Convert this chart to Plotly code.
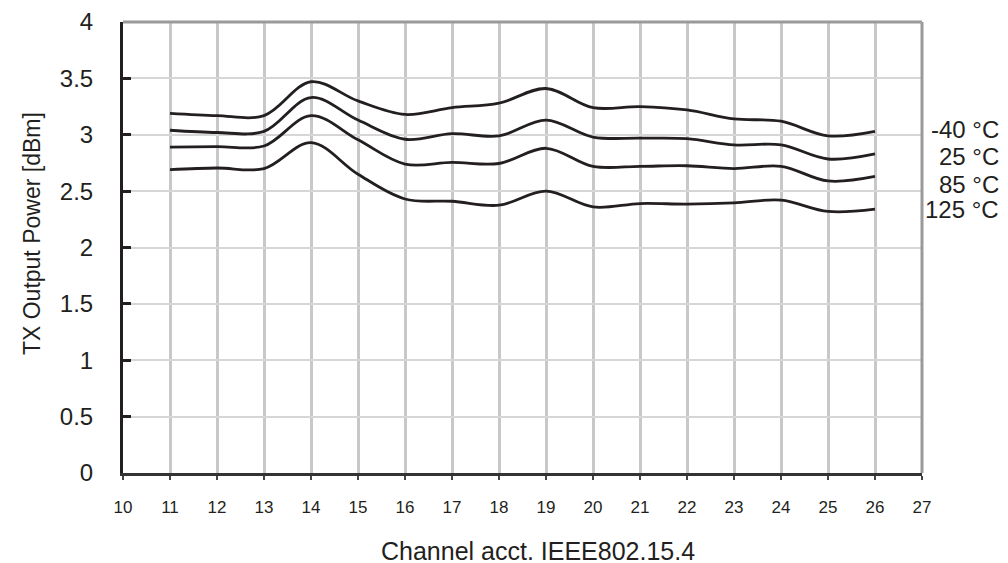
import plotly.graph_objects as go

channels = list(range(11, 27))
temps = ["-40 °C", "25 °C", "85 °C", "125 °C"]
p_m40 = [3.19, 3.17, 3.17, 3.47, 3.30, 3.18, 3.24, 3.28, 3.41, 3.24, 3.25, 3.22, 3.14, 3.12, 2.99, 3.03]
p_25 = [3.04, 3.02, 3.03, 3.33, 3.13, 2.96, 3.01, 2.99, 3.13, 2.98, 2.97, 2.965, 2.91, 2.91, 2.785, 2.83]
p_85 = [2.89, 2.895, 2.90, 3.17, 2.955, 2.74, 2.755, 2.745, 2.88, 2.72, 2.72, 2.725, 2.70, 2.72, 2.59, 2.63]
p_125 = [2.69, 2.705, 2.70, 2.93, 2.65, 2.43, 2.41, 2.375, 2.50, 2.36, 2.39, 2.385, 2.395, 2.42, 2.32, 2.34]
series = [p_m40, p_25, p_85, p_125]
label_y = [3.045, 2.81, 2.56, 2.335]

FONT = "Liberation Sans, Arial, Helvetica, sans-serif"
INK = "#231f20"

fig = go.Figure()
for name, vals in zip(temps, series):
    fig.add_trace(go.Scatter(x=channels, y=vals, mode="lines", name=name,
                             line=dict(color=INK, width=2.8, shape="spline", smoothing=1.0),
                             showlegend=False))

for name, yv in zip(temps, label_y):
    fig.add_annotation(x=1.099, xref="paper", y=yv, yref="y", text=name,
                       showarrow=False, xanchor="right", yanchor="middle",
                       font=dict(family=FONT, size=24, color=INK))

fig.add_annotation(x=-0.1139, xref="paper", y=0.532, yref="paper",
                   text="TX Output Power [dBm]", textangle=-90, showarrow=False,
                   xanchor="center", yanchor="middle",
                   font=dict(family=FONT, size=23, color=INK))
fig.add_annotation(x=0.519, xref="paper", y=-0.172, yref="paper",
                   text="Channel acct. IEEE802.15.4", showarrow=False,
                   xanchor="center", yanchor="middle",
                   font=dict(family=FONT, size=25, color=INK))

# top and right frame lines
fig.add_shape(type="line", xref="paper", yref="paper", x0=0, x1=1, y0=1, y1=1,
              line=dict(color="#9a9a9a", width=3), layer="above")
fig.add_shape(type="line", xref="paper", yref="paper", x0=1, x1=1, y0=0, y1=1,
              line=dict(color="#9a9a9a", width=3), layer="above")

fig.update_layout(
    width=1008, height=563,
    margin=dict(l=115, r=94, t=14, b=98),
    plot_bgcolor="white", paper_bgcolor="white",
    xaxis=dict(range=[10, 27], dtick=1, tick0=10, showgrid=True, automargin=False,
               gridcolor="#c8c8c8", gridwidth=2.5, zeroline=False,
               showline=True, linecolor="#333333", linewidth=2.5,
               ticks="outside", ticklen=4, tickwidth=1.5, tickcolor="#444444",
               ticklabelstandoff=13,
               tickfont=dict(family=FONT, size=17, color=INK)),
    yaxis=dict(range=[0, 4], dtick=0.5, tick0=0, showgrid=True, automargin=False,
               gridcolor="#d6d6d6", gridwidth=1.5, zeroline=False,
               showline=True, linecolor=INK, linewidth=3,
               ticks="inside", ticklen=8, tickwidth=3, tickcolor=INK,
               ticklabelstandoff=22,
               tickfont=dict(family=FONT, size=24, color=INK)),
)

fig.write_html("out.html")
